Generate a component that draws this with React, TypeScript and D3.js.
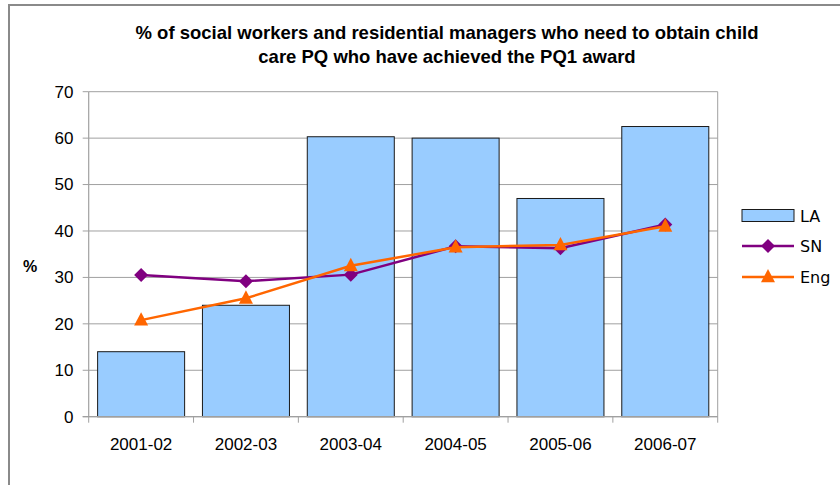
import React from "react";
import * as d3 from "d3";

const categories = ["2001-02", "2002-03", "2003-04", "2004-05", "2005-06", "2006-07"];
const laValues = [14.0, 24.0, 60.3, 60.0, 47.0, 62.5];
const snValues = [30.5, 29.2, 30.6, 36.7, 36.3, 41.4];
const engValues = [20.8, 25.5, 32.5, 36.5, 37.0, 41.0];
const yTicks = [0, 10, 20, 30, 40, 50, 60, 70];
const titleLines = [
  "% of social workers and residential managers who need to obtain child",
  "care PQ who have achieved the PQ1 award",
];
const legendItems = ["LA", "SN", "Eng"];

const W = 840;
const H = 485;
const plot = { left: 88.7, right: 717.7, top: 91.7, bottom: 416.7 };

const BAR = "#99CCFF";
const SN = "#800080";
const ENG = "#FF6600";
const GRID = "#a0a0a0";
const AXIS_FONT = "'Liberation Sans', Arial, sans-serif";

const diamond = (cx: number, cy: number, r: number) =>
  `M${cx},${cy - r}L${cx + r},${cy}L${cx},${cy + r}L${cx - r},${cy}Z`;
const triangle = (cx: number, cy: number, s: number) => {
  const h = s * 0.95;
  return `M${cx},${cy - h * 0.6}L${cx + s / 2},${cy + h * 0.4}L${cx - s / 2},${cy + h * 0.4}Z`;
};

export default function App() {
  const x = d3.scaleBand<string>().domain(categories).range([plot.left, plot.right]).padding(0);
  const y = d3.scaleLinear().domain([0, 70]).range([plot.bottom, plot.top]);
  const step = x.step();
  const barW = step * 0.83;
  const cx = (c: string) => (x(c) as number) + step / 2;

  const line = d3
    .line<number>()
    .x((_, i) => cx(categories[i]))
    .y((v) => y(v));

  const legendX = 742;
  const legendYs = [215.5, 246, 277];

  return (
    <svg
      width={W}
      height={H}
      style={{ position: "absolute", left: 0, top: 0, background: "#fff" }}
    >
      <rect x={0} y={0} width={W} height={H} fill="#fff" />
      {/* outer frame */}
      <rect x={9} y={5} width={W + 20} height={H + 20} fill="none" stroke="#8a8a8a" strokeWidth={2} />

      {/* title */}
      {titleLines.map((t, i) => (
        <text
          key={i}
          x={447}
          y={38.5 + i * 24}
          textAnchor="middle"
          fontFamily={AXIS_FONT}
          fontWeight="bold"
          fontSize={18.5}
          fill="#000"
        >
          {t}
        </text>
      ))}

      {/* gridlines */}
      {yTicks.map((t) => (
        <line key={t} x1={plot.left} x2={plot.right} y1={y(t)} y2={y(t)} stroke={GRID} strokeWidth={1} />
      ))}
      {/* plot right border */}
      <line x1={plot.right} x2={plot.right} y1={plot.top} y2={plot.bottom} stroke={GRID} strokeWidth={1} />

      {/* bars */}
      {categories.map((c, i) => (
        <rect
          key={c}
          x={cx(c) - barW / 2}
          y={y(laValues[i])}
          width={barW}
          height={y(0) - y(laValues[i])}
          fill={BAR}
          stroke="#1a1a1a"
          strokeWidth={1}
        />
      ))}

      {/* axes */}
      <line x1={plot.left} x2={plot.left} y1={plot.top} y2={plot.bottom} stroke={GRID} strokeWidth={1.2} />
      <line x1={plot.left - 6} x2={plot.right} y1={plot.bottom} y2={plot.bottom} stroke={GRID} strokeWidth={1.2} />
      {yTicks.map((t) => (
        <g key={t}>
          <line x1={plot.left - 6} x2={plot.left} y1={y(t)} y2={y(t)} stroke={GRID} strokeWidth={1} />
          <text
            x={73.5}
            y={y(t) + 5.8}
            textAnchor="end"
            fontFamily={AXIS_FONT}
            fontSize={17}
            fill="#000"
          >
            {t}
          </text>
        </g>
      ))}
      {categories.map((c) => (
        <line
          key={"tk" + c}
          x1={x(c) as number}
          x2={x(c) as number}
          y1={plot.bottom}
          y2={plot.bottom + 6}
          stroke={GRID}
          strokeWidth={1}
        />
      ))}
      <line x1={plot.right} x2={plot.right} y1={plot.bottom} y2={plot.bottom + 6} stroke={GRID} strokeWidth={1} />
      {categories.map((c) => (
        <text
          key={"lb" + c}
          x={cx(c)}
          y={450}
          textAnchor="middle"
          fontFamily={AXIS_FONT}
          fontSize={17}
          fill="#000"
        >
          {c}
        </text>
      ))}

      {/* y axis title */}
      <text x={30} y={272} textAnchor="middle" fontFamily={AXIS_FONT} fontWeight="bold" fontSize={16} fill="#000">
        %
      </text>

      {/* SN line */}
      <path d={line(snValues) || ""} fill="none" stroke={SN} strokeWidth={2.5} />
      {snValues.map((v, i) => (
        <path key={"sn" + i} d={diamond(cx(categories[i]), y(v), 7)} fill={SN} />
      ))}
      {/* Eng line */}
      <path d={line(engValues) || ""} fill="none" stroke={ENG} strokeWidth={2.5} />
      {engValues.map((v, i) => (
        <path key={"en" + i} d={triangle(cx(categories[i]), y(v), 14)} fill={ENG} />
      ))}

      {/* legend */}
      <rect x={legendX} y={legendYs[0] - 6} width={52} height={12} fill={BAR} stroke="#1a1a1a" strokeWidth={1} />
      <line x1={legendX} x2={legendX + 52} y1={legendYs[1]} y2={legendYs[1]} stroke={SN} strokeWidth={2.5} />
      <path d={diamond(legendX + 26, legendYs[1], 7)} fill={SN} />
      <line x1={legendX} x2={legendX + 52} y1={legendYs[2]} y2={legendYs[2]} stroke={ENG} strokeWidth={2.5} />
      <path d={triangle(legendX + 26, legendYs[2], 14)} fill={ENG} />
      {legendItems.map((t, i) => (
        <text
          key={t}
          x={800}
          y={legendYs[i] + 6}
          fontFamily="'DejaVu Sans', Verdana, sans-serif"
          fontSize={16}
          fill="#000"
        >
          {t}
        </text>
      ))}
    </svg>
  );
}
